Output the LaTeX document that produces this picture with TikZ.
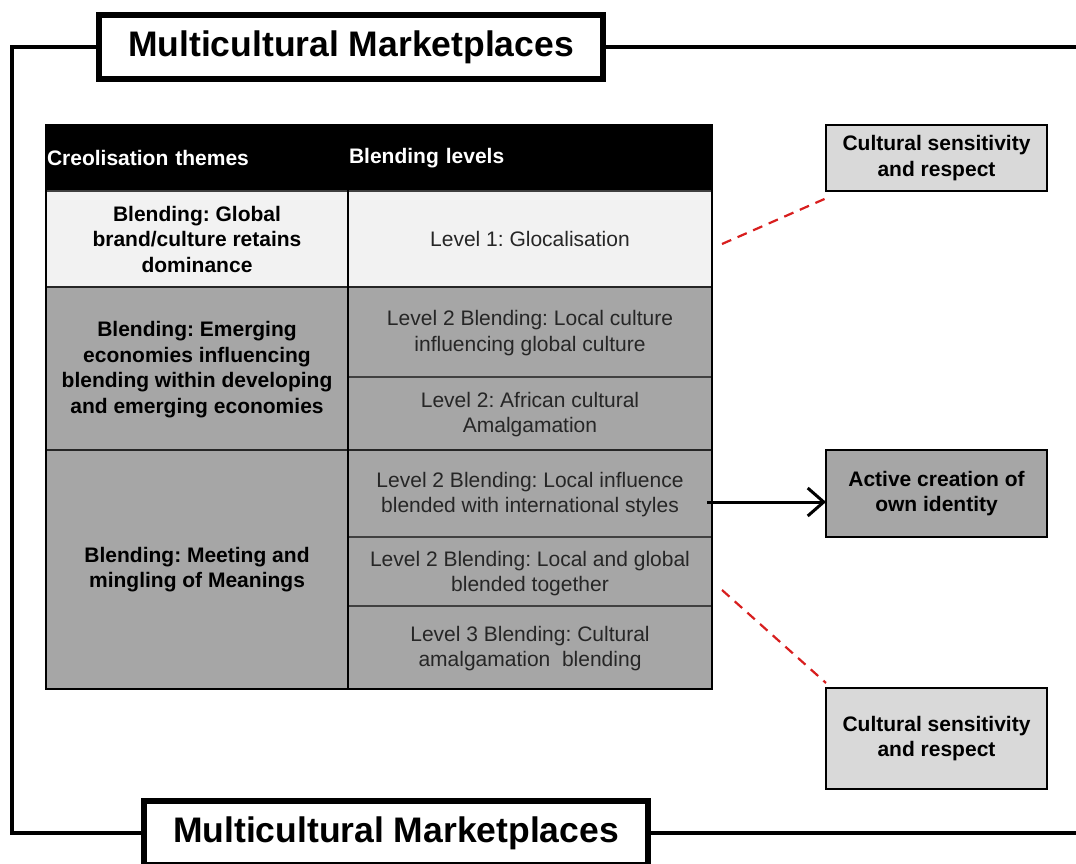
\documentclass[tikz,border=0pt]{standalone}
\usepackage{fontspec}
\setmainfont{Liberation Sans}
\usetikzlibrary{arrows.meta}
\definecolor{lightrow}{HTML}{F2F2F2}
\definecolor{midgray}{HTML}{A6A6A6}
\definecolor{boxgray}{HTML}{D9D9D9}
\definecolor{dashred}{HTML}{D81E1E}
\definecolor{celltext}{HTML}{262626}
\frenchspacing
\begin{document}
\begin{tikzpicture}[x=1pt,y=-1pt,
  every node/.style={inner sep=0pt, outer sep=0pt},
  txt/.style={font=\fontsize{21}{25.5}\selectfont, align=center, text=celltext},
  btxt/.style={font=\fontsize{21}{25.5}\selectfont\bfseries, align=center, text=black},
  cell/.style={draw=black!75, line width=1.2pt},
  headcell/.style={fill=black, draw=black, line width=1.2pt, text=white,
    font=\fontsize{21}{25.5}\selectfont\bfseries, align=left},
  titlebox/.style={draw=black, fill=white, line width=6pt,
    minimum width=504pt, minimum height=64pt,
    font=\fontsize{35.5}{40}\selectfont\bfseries},
  sidebox/.style={draw=black, line width=2.5pt, minimum width=221pt,
    font=\fontsize{21}{25.5}\selectfont\bfseries, align=center},
  frame/.style={line width=3.5pt, draw=black},
  sep/.style={line width=2.2pt, draw=black!85},
  redlink/.style={dash pattern=on 10pt off 7pt, line width=2.2pt, draw=dashred},
  flow/.style={line width=3pt, -{Straight Barb[length=16pt, width=28pt, line width=3pt]}}
]
\useasboundingbox (0,0) rectangle (1076,864);
\fill[white] (0,0) rectangle (1076,864);

% ---------- title boxes ----------
\node[titlebox] (ttop) at (351,47) {Multicultural Marketplaces};
\node[titlebox] (tbot) at (396,833) {\raisebox{3pt}{Multicultural Marketplaces}};

% ---------- outer frame ----------
\coordinate (fcorner) at (12,440);
\coordinate (fright) at (1082,440);
\draw[frame] (ttop.west) -| (fcorner) |- (tbot.west);
\draw[frame] (ttop.east) -- (ttop.east -| fright);
\draw[frame] (tbot.east) -- (tbot.east -| fright);

% ---------- table: header ----------
\node[headcell, minimum width=302pt, minimum height=66pt, text width=300pt] (hl) at (197,158) {Creolisation themes};
\node[headcell, minimum width=364pt, minimum height=66pt, text width=362pt] (hr) at (530,158) {Blending levels};

% ---------- table: row 1 ----------
\node[cell, fill=lightrow, minimum width=302pt, minimum height=96pt] (r1l) at (197,239) {};
\node[btxt] at (r1l) {Blending: Global\\brand/culture retains\\dominance};
\node[cell, fill=lightrow, minimum width=364pt, minimum height=96pt] (r1r) at (530,239) {};
\node[txt] at (r1r) {Level 1: Glocalisation};

% ---------- table: row 2 ----------
\node[cell, fill=midgray, minimum width=302pt, minimum height=163pt] (r2l) at (197,368.5) {};
\node[btxt] at ([yshift=-1pt]r2l.center) {Blending: Emerging\\economies influencing\\blending within developing\\and emerging economies};
\node[cell, fill=midgray, minimum width=364pt, minimum height=90pt] (r2a) at (530,332) {};
\node[txt] at ([yshift=-1pt]r2a.center) {Level 2 Blending: Local culture\\influencing global culture};
\node[cell, fill=midgray, minimum width=364pt, minimum height=73pt] (r2b) at (530,413.5) {};
\node[txt] at ([yshift=-1pt]r2b.center) {Level 2: African cultural\\Amalgamation};

% ---------- table: row 3 ----------
\node[cell, fill=midgray, minimum width=302pt, minimum height=239pt] (r3l) at (197,569.5) {};
\node[btxt] at (r3l) {Blending: Meeting and\\mingling of Meanings};
\node[cell, fill=midgray, minimum width=364pt, minimum height=87pt] (r3a) at (530,493.5) {};
\node[txt] at ([yshift=-1pt]r3a.center) {Level 2 Blending: Local influence\\blended with international styles};
\node[cell, fill=midgray, minimum width=364pt, minimum height=69pt] (r3b) at (530,571.5) {};
\node[txt] at ([yshift=-2pt]r3b.center) {Level 2 Blending: Local and global\\blended together};
\node[cell, fill=midgray, minimum width=364pt, minimum height=83pt] (r3c) at (530,647.5) {};
\node[txt] at ([yshift=-1pt]r3c.center) {Level 3 Blending: Cultural\\amalgamation\ \ blending};

% row separators and outer border
\draw[sep] (r1l.south west) -- (r1r.south east);
\draw[sep] (r2l.south west) -- (r2b.south east);
\draw[line width=1.2pt] (hl.north east) -- (r3l.south east);
\draw[line width=2.5pt] (hl.north west) rectangle (r3c.south east);

% ---------- side boxes ----------
\node[sidebox, fill=boxgray, minimum height=66pt] (cs1) at (936.5,158) {Cultural sensitivity\\and respect};
\node[sidebox, fill=midgray, minimum height=87pt] (act) at (936.5,493.5) {Active creation of\\own identity};
\node[sidebox, fill=boxgray, minimum height=101pt] (cs2) at (936.5,738.5) {Cultural sensitivity\\and respect};

% ---------- connectors ----------
\coordinate (d1) at (722,244);
\coordinate (d2) at (722,590);
\coordinate (a0) at (707,502);
\draw[redlink] (d1) -- ([shift={(3,6)}]cs1.south west);
\draw[redlink] (d2) -- ([shift={(0,-5)}]cs2.north west);
\draw[flow] (a0) -- (a0 -| act.west);
\end{tikzpicture}
\end{document}
